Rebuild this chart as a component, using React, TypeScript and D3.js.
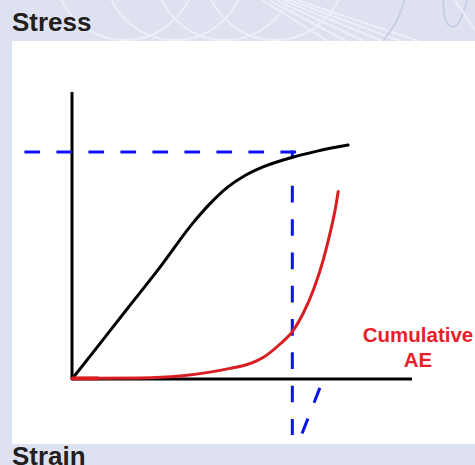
import React from "react";
import * as d3 from "d3";

// Stress–strain curve (arbitrary units, 0–100)
const stressStrain = [0, 6.2, 16.2, 25.9, 35.6, 40.6, 45.6, 50.9, 56.2, 64.7, 72.1, 81.2];
const stressValues = [0, 9.3, 24.4, 39.0, 54.4, 61.1, 66.7, 70.9, 73.9, 77.2, 79.4, 81.5];

// Cumulative acoustic emission curve
const aeStrain = [0, 20, 31.8, 40.6, 46.5, 51.5, 56.2, 61.2, 64.8, 68.0, 71.0, 73.9, 75.9, 77.4, 78.3];
const aeValues = [0.2, 0.35, 1.05, 2.4, 3.7, 5.05, 7.5, 12.2, 16.5, 22.9, 31.0, 41.5, 50.8, 59.0, 65.3];

// Reference (dashed) markers
const yieldStrain = [64.8];
const yieldStress = [79.1];
const guideStart = [-14.0]; // where the horizontal guide starts (strain units)
const guideEnd = [66.2];
const guideFirstDash = [67.3]; // stress level where the regular vertical dashes begin
const guideBottom = [-19.5]; // where the vertical guide ends (stress units)
const slashFrom = [67.6, -19.2];
const slashTo = [72.9, -3.1];

const axisLabels = ["Stress", "Strain"];
const seriesLabel = ["Cumulative", "AE"];

const W = 475;
const H = 465;

export default function App() {
  const x = d3.scaleLinear().domain([0, 100]).range([72, 412]);
  const y = d3.scaleLinear().domain([0, 100]).range([379, 92]);

  const line = d3
    .line<[number, number]>()
    .x((d) => x(d[0]))
    .y((d) => y(d[1]))
    .curve(d3.curveMonotoneX);

  const stressPts = stressStrain.map((s, i) => [s, stressValues[i]] as [number, number]);
  const aePts = aeStrain.map((s, i) => [s, aeValues[i]] as [number, number]);

  const blue = "#0a14f0";
  const red = "#d81e22";

  const circles = [125, 175, 225, 275];
  const fan = [0, 1, 2, 3, 4, 5];

  return (
    <svg
      width={W}
      height={H}
      style={{ position: "absolute", left: 0, top: 0 }}
      fontFamily="'Liberation Sans', Arial, sans-serif"
    >
      <defs>
        <clipPath id="band">
          <rect x={0} y={0} width={W} height={41} />
        </clipPath>
      </defs>
      <rect x={0} y={0} width={W} height={H} fill="#dee2f0" />
      <g clipPath="url(#band)" fill="none">
        {circles.map((cx) => (
          <circle key={cx} cx={cx} cy={-30} r={70} stroke="#eceef8" strokeWidth={2} />
        ))}
        {fan.map((i) => (
          <line
            key={i}
            x1={262 + i * 7}
            y1={0}
            x2={328 + i * 18}
            y2={41}
            stroke="#eceef8"
            strokeWidth={2}
          />
        ))}
        <path
          d="M383,41 C390,32 395,24 397,20 C400,14 402,8 405,0"
          stroke="#c9cee7"
          strokeWidth={2}
        />
        <path
          d="M443,0 C444,10 444,18 446,22 C449,27 453,28 457,25 C461,20 464,12 467,0"
          stroke="#c9cee7"
          strokeWidth={2}
        />
        <line x1={455} y1={0} x2={475} y2={30} stroke="#eceef8" strokeWidth={2} />
      </g>
      <rect x={12} y={41} width={W - 12} height={403} fill="#ffffff" />

      <text x={12} y={31} fontSize={26} fontWeight="bold" fill="#231f20">
        {axisLabels[0]}
      </text>
      <text x={12} y={464.5} fontSize={26} fontWeight="bold" fill="#231f20">
        {axisLabels[1]}
      </text>

      {/* axes */}
      <line x1={x(0)} y1={y(0)} x2={x(0)} y2={y(100)} stroke="#000" strokeWidth={3} />
      <line x1={x(0)} y1={y(0)} x2={x(100)} y2={y(0)} stroke="#000" strokeWidth={3} />

      {/* dashed guides */}
      <line
        x1={x(guideStart[0])}
        y1={y(yieldStress[0])}
        x2={x(guideEnd[0])}
        y2={y(yieldStress[0])}
        stroke={blue}
        strokeWidth={3}
        strokeDasharray="15.7 16.3"
      />
      <line
        x1={x(yieldStrain[0])}
        y1={y(yieldStress[0]) - 1.5}
        x2={x(yieldStrain[0])}
        y2={y(yieldStress[0]) + 5}
        stroke={blue}
        strokeWidth={3}
      />
      <line
        x1={x(yieldStrain[0])}
        y1={y(guideFirstDash[0])}
        x2={x(yieldStrain[0])}
        y2={y(guideBottom[0])}
        stroke={blue}
        strokeWidth={3}
        strokeDasharray="16.7 16.6"
      />
      <line
        x1={x(slashTo[0])}
        y1={y(slashTo[1])}
        x2={x(slashFrom[0])}
        y2={y(slashFrom[1])}
        stroke={blue}
        strokeWidth={3}
        strokeDasharray="16 17"
      />

      {/* curves */}
      <path d={line(stressPts) || ""} fill="none" stroke="#000" strokeWidth={3} strokeLinecap="round" />
      <path d={line(aePts) || ""} fill="none" stroke={red} strokeWidth={3} strokeLinecap="round" />
      <line x1={x(0)} y1={y(0.2)} x2={x(7.8)} y2={y(0.2)} stroke={red} strokeWidth={4} />

      <text x={418} y={342} fontSize={20.5} fontWeight="bold" fill="#e8202a" textAnchor="middle">
        {seriesLabel[0]}
      </text>
      <text x={418} y={367} fontSize={20.5} fontWeight="bold" fill="#e8202a" textAnchor="middle">
        {seriesLabel[1]}
      </text>
    </svg>
  );
}
